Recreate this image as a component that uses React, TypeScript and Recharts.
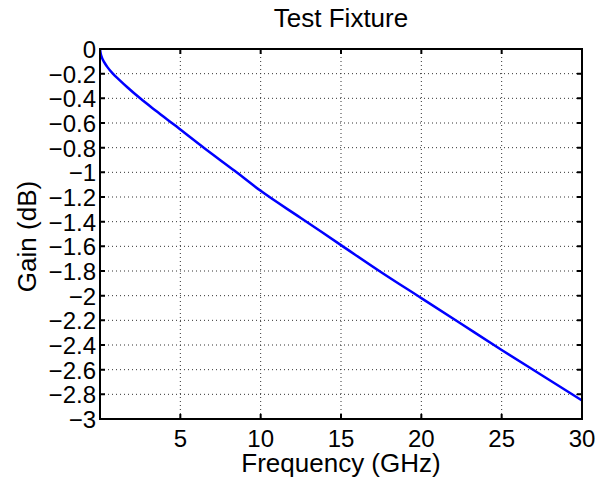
import React from "react";
import { LineChart, Line, XAxis, YAxis, CartesianGrid } from "recharts";

const titleText = "Test Fixture";
const xLabelText = "Frequency (GHz)";
const yLabelText = "Gain (dB)";

const freqGHz = [0, 0.04, 0.12, 0.25, 0.45, 0.8, 1.2, 1.7, 2.5, 3.5, 4.6, 6.5, 8.4, 10, 12.5, 15, 17.5, 20, 22.5, 25, 27.5, 30];
const gainDb = [0, -0.035, -0.07, -0.105, -0.145, -0.2, -0.25, -0.31, -0.4, -0.503, -0.613, -0.805, -0.99, -1.15, -1.37, -1.59, -1.81, -2.02, -2.23, -2.44, -2.645, -2.85];

const xTicks = [5, 10, 15, 20, 25, 30];
const yTicks = [-3, -2.8, -2.6, -2.4, -2.2, -2, -1.8, -1.6, -1.4, -1.2, -1, -0.8, -0.6, -0.4, -0.2, 0];

const data = freqGHz.map((f, i) => ({ f, g: gainDb[i] }));

const FONT = "'Liberation Sans', Arial, Helvetica, sans-serif";
const TICK_LEN = 5;

const W = 596;
const H = 479;
const Y_AXIS_W = 100;
const X_AXIS_H = 60;
const MARGIN = { top: 49, right: 14, bottom: 0, left: 0 };
const PLOT_TOP = MARGIN.top;
const PLOT_RIGHT = W - MARGIN.right;
const PLOT_LEFT = Y_AXIS_W;
const PLOT_BOTTOM = H - X_AXIS_H;

const fmtY = (v: number) => (v === 0 ? "0" : (v < 0 ? "\u2212" : "") + String(Math.abs(Math.round(v * 10) / 10)));

const BottomTick = (props: any) => {
  const { x, y, payload } = props;
  return (
    <g>
      <path d={`M${x},${y}V${y - TICK_LEN}M${x},${PLOT_TOP}V${PLOT_TOP + TICK_LEN}`} stroke="#000" strokeWidth={2} fill="none" />
      <text x={x} y={y + 28} textAnchor="middle" fontSize={24} fontFamily={FONT} fill="#000">
        {payload.value}
      </text>
    </g>
  );
};

const LeftTick = (props: any) => {
  const { x, y, payload } = props;
  return (
    <g>
      <path d={`M${x},${y}H${x + TICK_LEN}M${PLOT_RIGHT},${y}H${PLOT_RIGHT - TICK_LEN}`} stroke="#000" strokeWidth={2} fill="none" />
      <text x={x - 4} y={y + 9} textAnchor="end" fontSize={24} fontFamily={FONT} fill="#000">
        {fmtY(payload.value)}
      </text>
    </g>
  );
};

const XLabel = (props: any) => {
  const vb = props.viewBox;
  return (
    <g>
      <text x={vb.x + vb.width / 2} y={vb.y + 53} textAnchor="middle" fontSize={26} fontFamily={FONT} fill="#000">
        {xLabelText}
      </text>
      <text x={vb.x + vb.width / 2} y={PLOT_TOP - 22} textAnchor="middle" fontSize={26} fontFamily={FONT} fill="#000">
        {titleText}
      </text>
    </g>
  );
};

const YLabel = (props: any) => {
  const vb = props.viewBox;
  const cx = 36;
  const cy = vb.y + vb.height / 2 + 2.5;
  return (
    <text x={cx} y={cy} transform={`rotate(-90 ${cx} ${cy})`} textAnchor="middle" fontSize={26} fontFamily={FONT} fill="#000">
      {yLabelText}
    </text>
  );
};

export default function App() {
  return (
    <div style={{ position: "fixed", left: 0, top: 0, width: W, height: H, background: "#fff" }}>
      <LineChart width={W} height={H} data={data} margin={MARGIN}>
        <CartesianGrid stroke="#333" strokeDasharray="1 3" strokeWidth={1} />
        <XAxis
          dataKey="f"
          type="number"
          domain={[0, 30]}
          allowDataOverflow
          ticks={xTicks}
          interval={0}
          height={X_AXIS_H}
          tickSize={0}
          tickMargin={0}
          tickLine={false}
          axisLine={{ stroke: "#000", strokeWidth: 2 }}
          tick={BottomTick}
          label={XLabel}
        />
        <YAxis
          type="number"
          domain={[-3, 0]}
          allowDataOverflow
          ticks={yTicks}
          interval={0}
          width={Y_AXIS_W}
          tickSize={0}
          tickMargin={0}
          tickLine={false}
          axisLine={{ stroke: "#000", strokeWidth: 2 }}
          tick={LeftTick}
          label={YLabel}
        />
        <Line
          dataKey="g"
          type="monotone"
          stroke="#0000ff"
          strokeWidth={2.5}
          dot={false}
          isAnimationActive={false}
        />
      </LineChart>
      <div
        style={{
          position: "absolute",
          left: PLOT_LEFT - 1,
          top: PLOT_TOP - 1,
          width: PLOT_RIGHT - PLOT_LEFT - 2,
          height: PLOT_BOTTOM - PLOT_TOP - 2,
          border: "2px solid #000",
          pointerEvents: "none",
        }}
      />
    </div>
  );
}
